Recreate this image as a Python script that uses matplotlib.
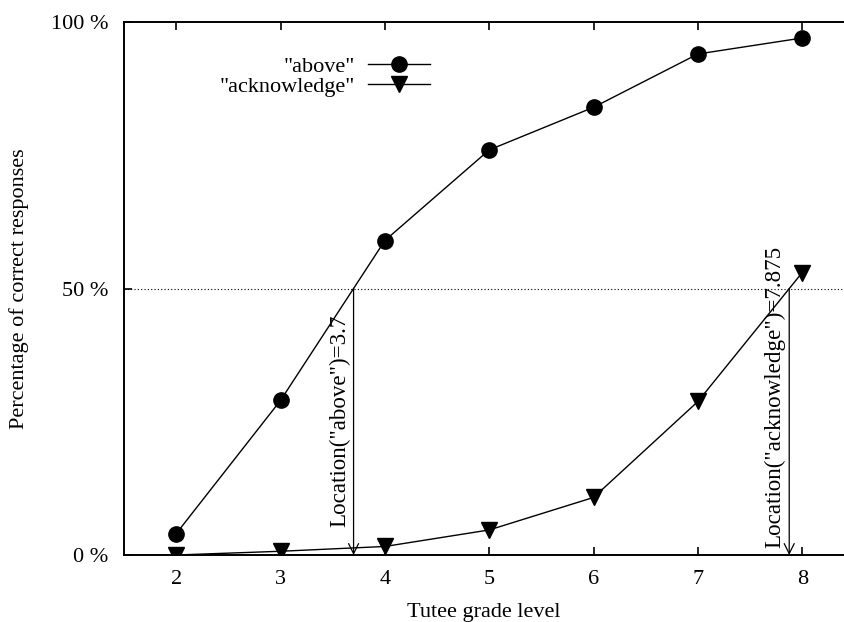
import matplotlib
matplotlib.use("Agg")
import matplotlib.pyplot as plt

# Percentage of correct responses per tutee grade level
grades = [2, 3, 4, 5, 6, 7, 8]
above = [4, 29, 59, 76, 84, 94, 97]
acknowledge = [0, 0.7, 1.6, 4.7, 10.8, 28.8, 53]

# 50 % crossing points (location of each word)
loc_above = 3.7
loc_ack = 7.875
threshold = 50

ytick_vals = [0, 50, 100]
ytick_labels = ["0 %", "50 %", "100 %"]

plt.rcParams["font.family"] = ["Liberation Serif", "DejaVu Serif"]

fig = plt.figure(figsize=(8.44, 6.22), dpi=100)
ax = fig.add_axes([124 / 844, 1 - 555 / 622, 1 - 124 / 844, (555 - 22) / 622])

ax.plot(grades, above, color="black", lw=1.0, marker="o", markersize=11,
        label='"above"')
ax.plot(grades, acknowledge, color="black", lw=1.0, marker="v", markersize=11,
        label='"acknowledge"')

ax.axhline(threshold, color="black", lw=0.8, ls=(0, (1, 2)))

arrow_style = dict(arrowstyle="->", color="black", lw=0.9,
                   mutation_scale=18, shrinkA=0, shrinkB=0)
ax.annotate("", xy=(loc_above, 0), xytext=(loc_above, threshold),
            arrowprops=arrow_style)
ax.annotate("", xy=(loc_ack, 0), xytext=(loc_ack, threshold),
            arrowprops=arrow_style)

ax.annotate('Location("above")=%g' % loc_above, xy=(loc_above, 5.3),
            xytext=(-2, 0), textcoords="offset points",
            rotation=90, ha="right", va="bottom", fontsize=16.6)
ax.annotate('Location("acknowledge")=%g' % loc_ack, xy=(loc_ack, 1.3),
            xytext=(-3, 0), textcoords="offset points",
            rotation=90, ha="right", va="bottom", fontsize=16.6)

ax.set_xlim(1.5, 8.4)
ax.set_ylim(0, 100)
ax.set_xticks(grades)
ax.set_yticks(ytick_vals)
ax.set_yticklabels(ytick_labels)
ax.tick_params(axis="x", direction="in", top=True, length=6, width=1.2,
               labelsize=16, pad=11)
ax.tick_params(axis="y", direction="in", length=6, width=1.2,
               labelsize=16, pad=11)
ax.spines["right"].set_visible(False)
for s in ("left", "top", "bottom"):
    ax.spines[s].set_linewidth(1.4)

ax.set_xlabel("Tutee grade level", fontsize=16, labelpad=10)
ax.set_ylabel("Percentage of correct responses", fontsize=16, labelpad=16)

ax.legend(loc="upper left", bbox_to_anchor=(0.117, 0.957), frameon=False,
          markerfirst=False, handlelength=2.8, fontsize=16,
          labelspacing=0.0, handletextpad=0.6, borderpad=0)

fig.savefig("out.png", dpi=100)
